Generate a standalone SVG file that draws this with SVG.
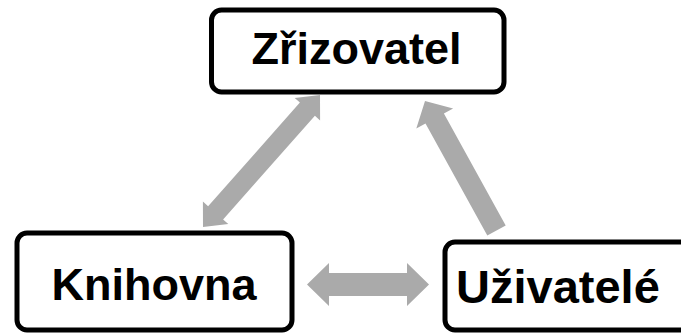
<svg xmlns="http://www.w3.org/2000/svg" width="681" height="335" viewBox="0 0 681 335">
<style>
.box{fill:#ffffff;stroke:#000000;stroke-width:5}
.lbl{font-family:"Liberation Sans",Arial,sans-serif;font-weight:bold;font-size:45px;fill:#000000}
.arr{fill:#aaaaaa;stroke:none}
</style>
<rect width="681" height="335" fill="#ffffff"/>
<g id="connectors">
<polygon class="arr" points="320,95 320.1,120.5 314.9,115.8 223.1,219.4 228.3,224.1 203,227 202.9,201.5 208.1,206.2 299.9,102.6 294.7,97.9"/>
<polygon class="arr" points="425,101 453.1,108.4 443.9,113.4 505.7,225.4 487.3,235.6 425.5,123.6 416.3,128.6"/>
<polygon class="arr" points="307,284.5 329,263 329,273 407,273 407,263 429,284.5 407,306 407,296 329,296 329,306"/>
</g>
<g id="zrizovatel">
<rect class="box" x="211.5" y="10" width="292.5" height="82" rx="10"/>
<text class="lbl" x="356.5" y="64" text-anchor="middle">Zřizovatel</text>
</g>
<g id="knihovna">
<rect class="box" x="17" y="233" width="275" height="97" rx="10"/>
<text class="lbl" x="154" y="300" text-anchor="middle">Knihovna</text>
</g>
<g id="uzivatele">
<rect class="box" x="445" y="242" width="260" height="88" rx="10"/>
<text class="lbl" x="456" y="303" style="font-size:47px">Uživatelé</text>
</g>
</svg>
